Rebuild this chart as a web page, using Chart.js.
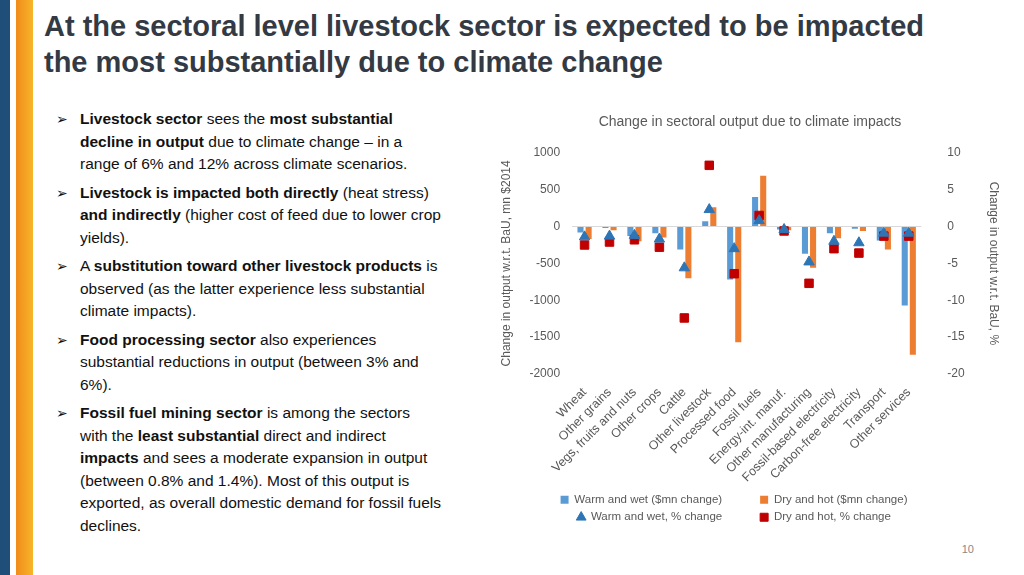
<!DOCTYPE html>
<html>
<head>
<meta charset="utf-8">
<script src="https://cdn.jsdelivr.net/npm/chart.js@4/dist/chart.umd.min.js"></script>
<style>
body { margin: 0; width: 1024px; height: 575px; position: relative; overflow: hidden; background: #fff; font-family: "Liberation Sans", Arial, sans-serif; }
#barBlue { position: absolute; left: 0; top: 0; width: 10px; height: 575px; background: #1f4e79; }
#barGold { position: absolute; left: 16px; top: 0; width: 17px; height: 575px; background: linear-gradient(to right, #f08c1a, #f6b52a); }
h1 { position: absolute; left: 44px; top: 8px; margin: 0; font-size: 29px; line-height: 36px; color: #333a44; font-weight: bold; width: 915px; }
ul { position: absolute; left: 56px; top: 108px; margin: 0; padding: 0; width: 385px; list-style: none; font-size: 15.5px; line-height: 22.5px; color: #111; }
li { position: relative; padding-left: 24px; margin-bottom: 6px; }
li:before { content: "\27A2"; position: absolute; left: 0; top: 0; font-size: 14px; }
#holder { position: absolute; left: 495px; top: 108px; width: 510px; height: 425px; }
#pg { position: absolute; right: 50px; top: 543px; font-size: 11px; color: #888; }
</style>
</head>
<body>
<div id="barBlue"></div><div id="barGold"></div>
<h1>At the sectoral level livestock sector is expected to be impacted the most substantially due to climate change</h1>
<ul>
<li><b>Livestock sector</b> sees the <b>most substantial decline in output</b> due to climate change – in a range of 6% and 12% across climate scenarios.</li>
<li><b>Livestock is impacted both directly</b> (heat stress) <b>and indirectly</b> (higher cost of feed due to lower crop yields).</li>
<li>A <b>substitution toward other livestock products</b> is observed (as the latter experience less substantial climate impacts).</li>
<li><b>Food processing sector</b> also experiences substantial reductions in output (between 3% and 6%).</li>
<li><b>Fossil fuel mining sector</b> is among the sectors with the <b>least substantial</b> direct and indirect <b>impacts</b> and sees a moderate expansion in output (between 0.8% and 1.4%). Most of this output is exported, as overall domestic demand for fossil fuels declines.</li>
</ul>
<div id="holder"><canvas id="chart-area"></canvas></div>
<div id="pg">10</div>
<script>
var sectors = ['Wheat', 'Other grains', 'Vegs, fruits and nuts', 'Other crops', 'Cattle', 'Other livestock', 'Processed food', 'Fossil fuels', 'Energy-int. manuf.', 'Other manufacturing', 'Fossil-based electricity', 'Carbon-free electricity', 'Transport', 'Other services'];
var warmWetMn = [-80, -20, -130, -90, -310, 70, -720, 400, -40, -370, -90, -30, -190, -1070];
var dryHotMn = [-170, -50, -200, -150, -700, 260, -1570, 690, -50, -560, -160, -60, -310, -1740];
var warmWetPct = [-1.4, -1.3, -1.2, -1.7, -5.6, 2.3, -3.0, 0.8, -0.4, -4.8, -2.0, -2.2, -0.9, -0.9];
var dryHotPct = [-2.5, -2.1, -1.8, -2.8, -12.4, 8.3, -6.4, 1.5, -0.6, -7.7, -3.0, -3.6, -1.3, -1.3];

var grey = '#595959';
var ctx = document.getElementById('chart-area').getContext('2d');
new Chart(ctx, {
    data: {
        labels: sectors,
        datasets: [
            {type: 'bar', label: 'Warm and wet ($mn change)', data: warmWetMn, backgroundColor: '#5b9bd5', yAxisID: 'y', pointStyle: 'rect', order: 3},
            {type: 'bar', label: 'Dry and hot ($mn change)', data: dryHotMn, backgroundColor: '#ed7d31', yAxisID: 'y', pointStyle: 'rect', order: 3},
            {type: 'line', label: 'Warm and wet, % change', data: warmWetPct, showLine: false, pointStyle: 'triangle', pointRadius: 6, backgroundColor: '#2e75b6', borderColor: '#2e75b6', yAxisID: 'y2', order: 1},
            {type: 'line', label: 'Dry and hot, % change', data: dryHotPct, showLine: false, pointStyle: 'rect', pointRadius: 6, backgroundColor: '#c00000', borderColor: '#c00000', yAxisID: 'y2', order: 2}
        ]
    },
    options: {
        responsive: true, maintainAspectRatio: false, animation: false,
        layout: {padding: {left: 0, right: 0, top: 0, bottom: 0}},
        datasets: {bar: {barPercentage: 0.75, categoryPercentage: 0.65}},
        plugins: {
            title: {display: true, text: 'Change in sectoral output due to climate impacts', color: grey, font: {size: 14, weight: 'normal', family: 'Liberation Sans'}, padding: {top: 6, bottom: 22}},
            legend: {position: 'bottom', labels: {usePointStyle: true, boxWidth: 8, boxHeight: 8, padding: 6, color: grey, font: {size: 11.5, family: 'Liberation Sans'},
                sort: function (a, b) { return a.datasetIndex - b.datasetIndex; },
                generateLabels: function (chart) {
                    var items = Chart.defaults.plugins.legend.labels.generateLabels(chart);
                    items.forEach(function (it) { it.text = it.text + '\u00a0\u00a0\u00a0\u00a0\u00a0\u00a0\u00a0\u00a0\u00a0\u00a0'; });
                    return items;
                }}},
            tooltip: {enabled: false}
        },
        scales: {
            x: {grid: {display: false}, border: {display: false}, ticks: {color: grey, font: {size: 12.5, family: 'Liberation Sans'}, maxRotation: 45, minRotation: 45, autoSkip: false}},
            y: {position: 'left', min: -2000, max: 1000, ticks: {stepSize: 500, color: grey, font: {size: 12, family: 'Liberation Sans'}, padding: 12, callback: function (v) { return String(v); }},
                grid: {drawTicks: false, color: function (c) { return c.tick.value === 0 ? '#d9d9d9' : 'rgba(0,0,0,0)'; }}, border: {display: false},
                title: {display: true, text: 'Change in output w.r.t. BaU, mn $2014', color: grey, font: {size: 12, family: 'Liberation Sans'}}},
            y2: {position: 'right', min: -20, max: 10, ticks: {stepSize: 5, color: grey, font: {size: 12, family: 'Liberation Sans'}, padding: 18},
                grid: {display: false}, border: {display: false},
                title: {display: true, text: 'Change in output w.r.t. BaU, %', color: grey, font: {size: 12, family: 'Liberation Sans'}}}
        }
    }
});
</script>
</body>
</html>
